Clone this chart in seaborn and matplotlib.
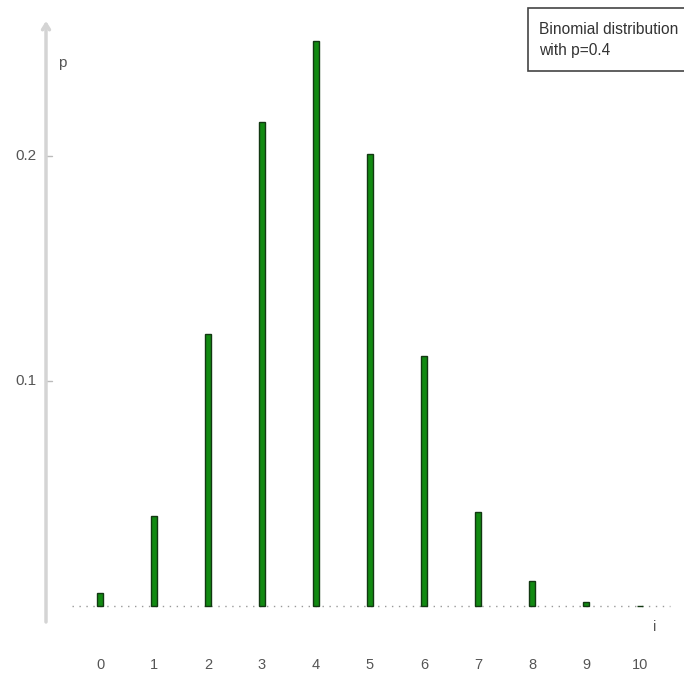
import matplotlib
matplotlib.use("Agg")
import matplotlib.pyplot as plt
from matplotlib.patches import Rectangle
import seaborn as sns
import pandas as pd

# values
outcomes = [0, 1, 2, 3, 4, 5, 6, 7, 8, 9, 10]
probs = [0.006, 0.040, 0.121, 0.215, 0.251, 0.201, 0.111, 0.042, 0.011, 0.0016, 0.0001]
y_ticks = [0.1, 0.2]
y_tick_labels = ["0.1", "0.2"]
legend_lines = ["Binomial distribution", "with p=0.4"]

sns.set_style("white")
plt.rcParams["font.family"] = ["Liberation Sans", "DejaVu Sans"]

df = pd.DataFrame({"i": outcomes, "p": probs})

fig = plt.figure(figsize=(6.84, 6.76), dpi=100)
ax = fig.add_axes([0, 0, 1, 1])

sns.barplot(data=df, x="i", y="p", native_scale=True, width=0.12,
            color="#118a11", saturation=1, edgecolor="#123812",
            linewidth=1.0, ax=ax)

ax.set_xlim(-1.852, 10.815)
ax.set_ylim(-0.0311, 0.2693)
ax.set_axis_off()

text_col = "#555555"
axis_col = "#d4d4d4"

# y axis with open arrow head
ax.annotate("", xy=(-1.0, 0.2600), xytext=(-1.0, -0.0071),
            arrowprops=dict(arrowstyle="->,head_length=0.4,head_width=0.25",
                            color=axis_col, lw=2.5, shrinkA=0, shrinkB=0))
for t, lab in zip(y_ticks, y_tick_labels):
    ax.plot([-1.0, -0.89], [t, t], color="#bbbbbb", lw=1)
    ax.text(-1.17, t, lab, ha="right", va="center", fontsize=11, color=text_col)

# dotted baseline
ax.plot([-0.52, 10.56], [0, 0], color="#999999", lw=1.0, ls=(0, (1, 4)), zorder=0)

for x in outcomes:
    ax.text(x, -0.0262, str(x), ha="center", va="center", fontsize=10.5, color=text_col)

ax.text(10.28, -0.0093, "i", ha="center", va="center", fontsize=10.5, color=text_col)
ax.text(-0.70, 0.2413, "p", ha="center", va="center", fontsize=11, color=text_col)

# legend box, running off the right edge as in the reference
fig.patches.append(Rectangle((528 / 684, 1 - 71 / 676), 170 / 684, 63 / 676,
                             transform=fig.transFigure, facecolor="white",
                             edgecolor="#444444", lw=1.2, clip_on=False))
for k, line in enumerate(legend_lines):
    fig.text(539 / 684, 1 - (29 + 21 * k) / 676, line, ha="left", va="center",
             fontsize=11.2, color="#333333")

fig.savefig("out.png", dpi=100)
